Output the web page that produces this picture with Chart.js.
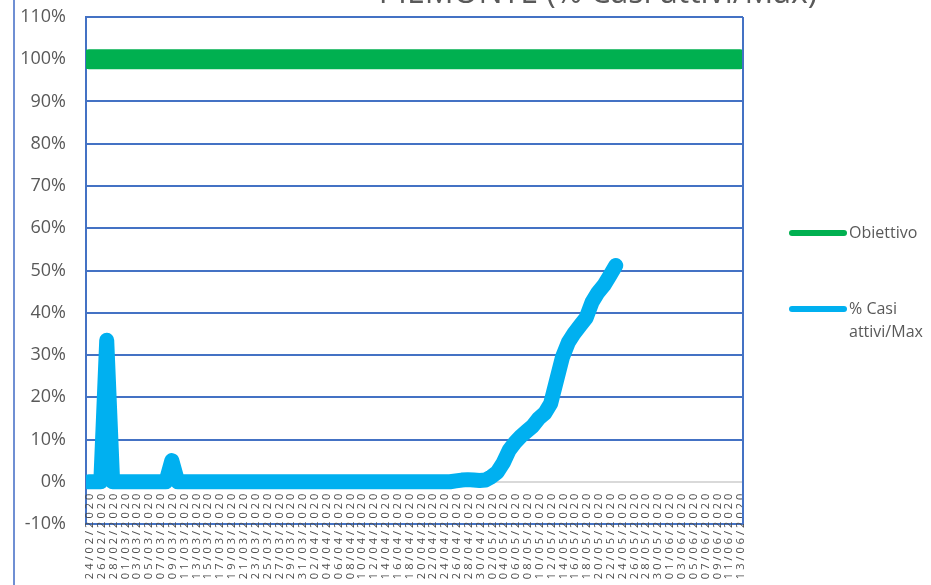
<!DOCTYPE html>
<html>
<head>
<meta charset="utf-8">
<script src="https://cdn.jsdelivr.net/npm/chart.js@4"></script>
<style>
  html, body { margin: 0; padding: 0; background: #fff; overflow: hidden; }
  canvas { display: block; }
</style>
</head>
<body>
<canvas id="chart" width="931" height="585"></canvas>
<script>
// categorie: un giorno per punto, etichetta mostrata ogni 2 giorni
const dates = [
  '24/02/2020','25/02/2020','26/02/2020','27/02/2020','28/02/2020','29/02/2020',
  '01/03/2020','02/03/2020','03/03/2020','04/03/2020','05/03/2020','06/03/2020','07/03/2020','08/03/2020','09/03/2020','10/03/2020',
  '11/03/2020','12/03/2020','13/03/2020','14/03/2020','15/03/2020','16/03/2020','17/03/2020','18/03/2020','19/03/2020','20/03/2020',
  '21/03/2020','22/03/2020','23/03/2020','24/03/2020','25/03/2020','26/03/2020','27/03/2020','28/03/2020','29/03/2020','30/03/2020','31/03/2020',
  '01/04/2020','02/04/2020','03/04/2020','04/04/2020','05/04/2020','06/04/2020','07/04/2020','08/04/2020','09/04/2020','10/04/2020',
  '11/04/2020','12/04/2020','13/04/2020','14/04/2020','15/04/2020','16/04/2020','17/04/2020','18/04/2020','19/04/2020','20/04/2020',
  '21/04/2020','22/04/2020','23/04/2020','24/04/2020','25/04/2020','26/04/2020','27/04/2020','28/04/2020','29/04/2020','30/04/2020',
  '01/05/2020','02/05/2020','03/05/2020','04/05/2020','05/05/2020','06/05/2020','07/05/2020','08/05/2020','09/05/2020','10/05/2020',
  '11/05/2020','12/05/2020','13/05/2020','14/05/2020','15/05/2020','16/05/2020','17/05/2020','18/05/2020','19/05/2020','20/05/2020',
  '21/05/2020','22/05/2020','23/05/2020','24/05/2020','25/05/2020','26/05/2020','27/05/2020','28/05/2020','29/05/2020','30/05/2020','31/05/2020',
  '01/06/2020','02/06/2020','03/06/2020','04/06/2020','05/06/2020','06/06/2020','07/06/2020','08/06/2020','09/06/2020','10/06/2020',
  '11/06/2020','12/06/2020','13/06/2020'
];

const obiettivo = [
  100,100,100,100,100,100,100,100,100,100,100,100,100,100,100,100,100,100,100,100,
  100,100,100,100,100,100,100,100,100,100,100,100,100,100,100,100,100,100,100,100,
  100,100,100,100,100,100,100,100,100,100,100,100,100,100,100,100,100,100,100,100,
  100,100,100,100,100,100,100,100,100,100,100,100,100,100,100,100,100,100,100,100,
  100,100,100,100,100,100,100,100,100,100,100,100,100,100,100,100,100,100,100,100,
  100,100,100,100,100,100,100,100,100,100,100
];

const casiAttivi = [
  0, 0, 0, 33.5, 0, 0, 0, 0, 0, 0,
  0, 0, 0, 0, 5, 0, 0, 0, 0, 0,
  0, 0, 0, 0, 0, 0, 0, 0, 0, 0,
  0, 0, 0, 0, 0, 0, 0, 0, 0, 0,
  0, 0, 0, 0, 0, 0, 0, 0, 0, 0,
  0, 0, 0, 0, 0, 0, 0, 0, 0, 0,
  0, 0, 0.2, 0.4, 0.5, 0.4, 0.3, 0.4, 1.2, 2.3,
  4.5, 7.5, 9.3, 10.8, 12, 13.2, 15, 16.2, 18.5, 24,
  29.5, 33, 35.2, 37, 38.8, 42.5, 44.8, 46.5, 48.8, 51.2
];

const titleText = 'PIEMONTE (% Casi attivi/Max)';
const yMin = -10, yMax = 110, yStep = 10;

const grey = '#595959';
const blue = '#4472C4';

Chart.defaults.font.family = '"Open Sans", sans-serif';
Chart.defaults.color = grey;

// bordo del grafico, cornice dell'area dati
const framePlugin = {
  id: 'frame',
  afterDraw(chart) {
    const c = chart.ctx, a = chart.chartArea;
    c.save();
    c.strokeStyle = blue;
    c.lineWidth = 2;
    c.beginPath();
    c.moveTo(a.right, a.top);
    c.lineTo(a.right, a.bottom);
    c.stroke();
    c.strokeStyle = '#6f8fd3';
    c.beginPath();
    c.moveTo(14, 0);
    c.lineTo(14, chart.height);
    c.stroke();
    c.restore();
  }
};

// etichette asse x: ruotate, spaziate, partono dallo 0%
const xLabelsPlugin = {
  id: 'xLabels',
  afterDatasetsDraw(chart) {
    const xs = chart.scales.x, ys = chart.scales.y;
    const c = chart.ctx;
    const top = ys.getPixelForValue(0) + 9;
    c.save();
    c.fillStyle = '#4d4d4d';
    c.font = '11px "Open Sans"';
    c.letterSpacing = '3px';
    c.textAlign = 'right';
    c.textBaseline = 'middle';
    chart.data.labels.forEach((lab, i) => {
      if (i % 2) return;
      c.save();
      c.translate(xs.getPixelForValue(i) + 1, top);
      c.rotate(-Math.PI / 2);
      c.fillText(lab, 0, 0);
      c.restore();
    });
    c.restore();
  }
};

// legenda a destra con testo a capo
const legendPlugin = {
  id: 'sideLegend',
  afterDraw(chart) {
    const c = chart.ctx;
    const rows = [233, 309];
    c.save();
    c.font = '16px "Open Sans"';
    c.fillStyle = grey;
    c.textBaseline = 'middle';
    c.lineCap = 'round';
    chart.data.datasets.forEach((ds, k) => {
      const y = rows[k];
      c.strokeStyle = ds.borderColor;
      c.lineWidth = 6;
      c.beginPath();
      c.moveTo(792, y);
      c.lineTo(844, y);
      c.stroke();
      // a capo semplice
      const words = ds.label.split(' ');
      let line = '', lines = [];
      words.forEach(w => {
        const t = line ? line + ' ' + w : w;
        if (c.measureText(t).width > 78 && line) { lines.push(line); line = w; }
        else line = t;
      });
      lines.push(line);
      lines.forEach((l, j) => c.fillText(l, 849, y + j * 23));
    });
    c.restore();
  }
};

// titolo tagliato in alto
const titlePlugin = {
  id: 'topTitle',
  afterDraw(chart) {
    const c = chart.ctx;
    c.save();
    c.font = '32px "Open Sans"';
    c.fillStyle = grey;
    c.textAlign = 'center';
    c.textBaseline = 'alphabetic';
    c.fillText(titleText, 598, 3);
    c.restore();
  }
};

new Chart(document.getElementById('chart'), {
  type: 'line',
  data: {
    labels: dates,
    datasets: [
      {
        label: 'Obiettivo',
        data: obiettivo,
        borderColor: '#00B050',
        borderWidth: 20,
        pointRadius: 0,
        borderCapStyle: 'round',
        clip: 0
      },
      {
        label: '% Casi attivi/Max',
        data: casiAttivi,
        borderColor: '#00B0F0',
        borderWidth: 15,
        pointRadius: 0,
        borderCapStyle: 'round',
        borderJoinStyle: 'round',
        clip: 0
      }
    ]
  },
  options: {
    responsive: false,
    animation: false,
    devicePixelRatio: 1,
    layout: { autoPadding: false, padding: { top: 17, right: 188, left: 0, bottom: 0 } },
    plugins: {
      legend: { display: false },
      title: { display: false },
      tooltip: { enabled: false }
    },
    scales: {
      x: {
        offset: true,
        grid: { display: false },
        border: { color: blue, width: 2 },
        ticks: { display: false },
        afterFit: s => { s.height = 61; }
      },
      y: {
        min: yMin,
        max: yMax,
        ticks: {
          stepSize: yStep,
          callback: v => v + '%',
          padding: 20,
          font: { size: 18 },
          color: grey
        },
        grid: {
          color: c => (c.tick && c.tick.value === 0) ? '#d9d9d9' : blue,
          lineWidth: 2,
          drawTicks: false
        },
        border: { color: blue, width: 2 },
        afterFit: s => { s.width = 86; s.paddingTop = 0; s.paddingBottom = 0; }
      }
    }
  },
  plugins: [framePlugin, xLabelsPlugin, legendPlugin, titlePlugin]
});
</script>
</body>
</html>
